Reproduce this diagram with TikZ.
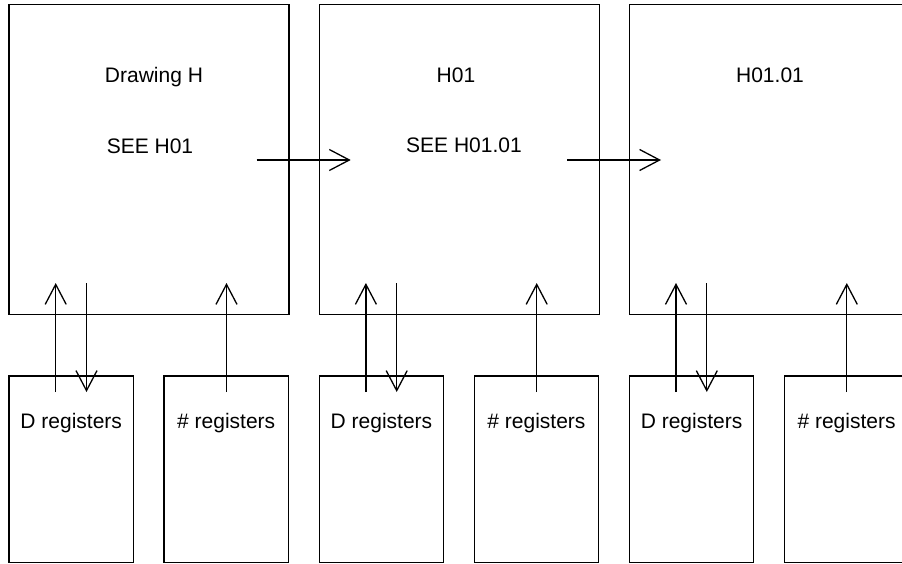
\documentclass[tikz,border=0pt]{standalone}
\usepackage{fontspec}
\setmainfont{Liberation Sans}
\usetikzlibrary{arrows.meta,calc}
\begin{document}
\begin{tikzpicture}[x=1pt,y=-1pt,
  bigbox/.style={draw,line width=1.3pt,minimum width=280pt,minimum height=310pt,inner sep=0pt},
  regbox/.style={draw,line width=1.3pt,minimum width=124.5pt,minimum height=186.7pt,inner sep=0pt},
  lbl/.style={font=\fontsize{21}{25}\selectfont,inner sep=0pt,anchor=base},
  arr/.style={line width=1.3pt,-{Straight Barb[length=20pt,width=21pt,line width=1.3pt]}}]
\useasboundingbox (0,0) rectangle (902,564);
\foreach \i/\x in {1/9,2/319.2,3/629.3}{
  \node[bigbox] (b\i) at (\x+140,159.3) {};
  \node[regbox] (d\i) at (\x+62.25,469.35) {};
  \node[regbox] (r\i) at (\x+155+62.25,469.35) {};
  \node[lbl] (dt\i) at (d\i.center |- 0,428) {D registers};
  \node[lbl] (rt\i) at (r\i.center |- 0,428) {\# registers};
  \coordinate (du\i a) at (\x+46.7,392);
  \coordinate (du\i b) at (\x+46.7,283);
  \coordinate (dd\i a) at (\x+77.5,283);
  \coordinate (dd\i b) at (\x+77.5,392);
  \coordinate (ru\i a) at (\x+217.5,392);
  \coordinate (ru\i b) at (\x+217.5,283);
  \draw[arr] (du\i a) -- (du\i b);
  \draw[arr] (dd\i a) -- (dd\i b);
  \draw[arr] (ru\i a) -- (ru\i b);
}
\node[lbl] (t1) at (154,82.5) {Drawing H};
\node[lbl] (s1) at (150,153.2) {SEE H01};
\node[lbl] (t2) at (456,82.3) {H01};
\node[lbl] (s2) at (464,152.3) {SEE H01.01};
\node[lbl] (t3) at (770,82.5) {H01.01};
\coordinate (h1a) at (256.7,160);
\coordinate (h1b) at (350.7,160);
\coordinate (h2a) at (567,160);
\coordinate (h2b) at (661,160);
\draw[arr] (h1a) -- (h1b);
\draw[arr] (h2a) -- (h2b);
\end{tikzpicture}
\end{document}
